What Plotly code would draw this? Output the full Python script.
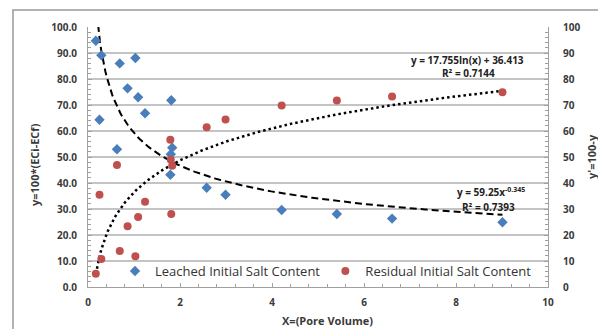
import numpy as np
import plotly.graph_objects as go

# Data
pore_volume = [0.17, 0.29, 0.69, 1.03, 0.86, 1.09, 1.24, 1.81, 0.25, 0.63, 1.83, 1.80, 1.79,
               2.58, 2.99, 4.21, 5.41, 6.61, 9.01]
leached = [94.7, 89.1, 86.0, 88.1, 76.4, 73.0, 66.8, 71.8, 64.3, 53.0, 53.6, 51.1, 43.2,
           38.2, 35.5, 29.6, 28.1, 26.3, 24.9]
residual = [5.1, 10.8, 13.8, 11.8, 23.4, 26.9, 32.8, 28.1, 35.5, 46.9, 46.6, 48.9, 56.6,
            61.4, 64.4, 69.8, 71.7, 73.3, 74.9]

# Trendline coefficients (as printed on the chart)
pow_a, pow_b, pow_r2 = 59.25, -0.345, 0.7393
log_a, log_b, log_r2 = 17.755, 36.413, 0.7144

x_tick_vals = [0, 2, 4, 6, 8, 10]
y_tick_vals = [0, 10, 20, 30, 40, 50, 60, 70, 80, 90, 100]

OFF = 8  # page body margin
W, H = 606 - OFF, 329 - OFF
L, T = 88 - OFF, 27 - OFF
PR, PB = 548 - OFF, 287 - OFF
R, B = W - PR, H - PB
PW, PH = PR - L, PB - T

def px_x(p):
    return (p - OFF - L) / PW

def px_y(p):
    return (PB - (p - OFF)) / PH

FONT = "Open Sans"
TXT = "#3a3a3a"
GRID = "#c4c4c4"
AX = "#a0a0a0"

xs = np.linspace(min(pore_volume), max(pore_volume), 300)
pow_y = pow_a * xs ** pow_b
log_y = log_a * np.log(xs) + log_b

fig = go.Figure()
fig.add_trace(go.Scatter(x=xs, y=pow_y, mode="lines", showlegend=False,
                         line=dict(color="black", width=2, dash="7px,4px"), hoverinfo="skip"))
fig.add_trace(go.Scatter(x=xs, y=log_y, mode="lines", showlegend=False,
                         line=dict(color="black", width=2.5, dash="2.5px,3px"), hoverinfo="skip"))
fig.add_trace(go.Scatter(x=pore_volume, y=leached, mode="markers", name="Leached Initial Salt Content",
                         marker=dict(symbol="diamond", size=8, color="#4a7ebb")))
fig.add_trace(go.Scatter(x=pore_volume, y=residual, mode="markers", name="Residual Initial Salt Content",
                         marker=dict(symbol="circle", size=8, color="#c0504d")))
fig.add_trace(go.Scatter(x=[None], y=[None], yaxis="y2", showlegend=False, hoverinfo="skip"))

tickfont = dict(size=10, color=TXT, family=FONT, weight="bold")

fig.update_layout(
    width=W, height=H,
    margin=dict(l=L, r=R, t=T, b=B, autoexpand=False),
    paper_bgcolor="white", plot_bgcolor="white",
    font=dict(family=FONT, size=10, color=TXT),
    showlegend=True,
    legend=dict(orientation="h", x=px_x(115), y=px_y(271), xanchor="left", yanchor="middle",
                bgcolor="rgba(0,0,0,0)", font=dict(size=13, color="#333333", family=FONT),
                itemwidth=30),
    xaxis=dict(range=[0, 10], tickvals=x_tick_vals, showgrid=False, zeroline=False, automargin=False,
               showline=True, linecolor=AX, linewidth=1, ticks="inside", ticklen=4, tickcolor=AX,
               minor=dict(dtick=0.4, ticks="inside", ticklen=3, tickcolor=AX),
               tickfont=tickfont, ticklabelstandoff=6),
    yaxis=dict(range=[0, 100], tickvals=y_tick_vals, tickformat=".1f", showgrid=True, automargin=False,
               gridcolor=GRID, gridwidth=1.5, zeroline=False, showline=True, linecolor=AX,
               ticks="inside", ticklen=4, tickcolor=AX,
               minor=dict(dtick=2, ticks="inside", ticklen=3, tickcolor=AX, showgrid=False),
               tickfont=tickfont, ticklabelstandoff=8),
    yaxis2=dict(range=[0, 100], tickvals=y_tick_vals, overlaying="y", side="right", showgrid=False,
                automargin=False,
                zeroline=False, showline=True, linecolor=AX, ticks="inside", ticklen=4, tickcolor=AX,
                minor=dict(dtick=2, ticks="inside", ticklen=3, tickcolor=AX),
                tickfont=tickfont, ticklabelstandoff=12),
)

eqfont = dict(size=10, color="#222222", family=FONT, weight="bold")
titfont = dict(size=11, color=TXT, family=FONT, weight="bold")
ann = [
    dict(text="y=100*(ECi-ECf)", x=px_x(34), y=px_y(165), textangle=-90, font=titfont),
    dict(text="y'=100-y", x=px_x(591), y=px_y(157), textangle=-90, font=titfont),
    dict(text="X=(Pore Volume)", x=px_x(327), y=px_y(320), font=titfont),
    dict(text=f"y = {log_a}ln(x) + {log_b}", x=px_x(467), y=px_y(60), font=eqfont),
    dict(text=f"R² = {log_r2}", x=px_x(468), y=px_y(73), font=eqfont),
    dict(text=f"y = {pow_a}x<sup>{pow_b}</sup>", x=px_x(491), y=px_y(192), font=eqfont),
    dict(text=f"R² = {pow_r2}", x=px_x(488), y=px_y(207), font=eqfont),
]
for a in ann:
    a.update(xref="paper", yref="paper", showarrow=False, xanchor="center", yanchor="middle")
fig.update_layout(annotations=ann)

# outer chart border
fig.add_shape(type="path", xref="paper", yref="paper", layer="below",
              path=f"M {px_x(13)} {px_y(340)} L {px_x(13)} {px_y(10)} L {px_x(604)} {px_y(10)} L {px_x(604)} {px_y(340)}",
              line=dict(color="#999999", width=1.5))

fig.write_html("out.html")
